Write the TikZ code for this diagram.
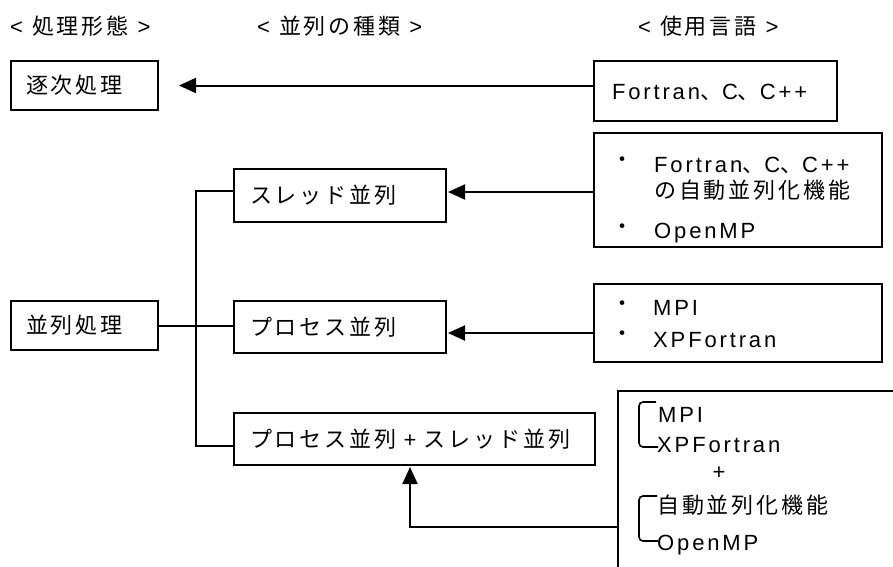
\documentclass[tikz,border=0pt]{standalone}
\usepackage{fontspec}
\setmainfont{Liberation Sans}[LetterSpace=13]
\newfontfamily\jpf{Noto Sans CJK JP}[LetterSpace=13]
\usetikzlibrary{arrows.meta,calc}
\begin{document}
\begin{tikzpicture}[x=1pt,y=-1pt,
  every node/.style={font=\fontsize{22}{26}\selectfont},
  box/.style={draw,line width=2pt,anchor=north west,inner xsep=15pt,inner ysep=0pt,align=left,text height=18pt,text depth=2pt},
  frame/.style={draw,line width=2pt,anchor=north west,inner sep=0pt},
  txt/.style={inner sep=0pt,anchor=west,text height=18pt,text depth=2pt},
  dot/.style={inner sep=0pt,anchor=center,text height=18pt,text depth=2pt},
  conn/.style={line width=2pt},
  arr/.style={conn,-{Triangle[length=17pt,width=15pt]}},
  brk/.style={line width=1.6pt,rounded corners=4pt}
]
\fill[white] (0,0) rectangle (893,566);
\useasboundingbox (0,0) rectangle (893,566);
\clip (0,0) rectangle (893,566);

% headers
\node[txt] (h1) at (10,26.5) {< {\jpf 処理形態} >};
\node[txt] (h2) at (257,26.5) {< {\jpf 並列の種類} >};
\node[txt] (h3) at (638,26.5) {< {\jpf 使用言語} >};

% boxes
\node[box,text width=117pt,minimum height=49pt] (seq) at (10,60) {{\jpf 逐次処理}};
\node[box,inner xsep=18pt,text width=207pt,minimum height=60pt] (f1) at (593,60) {Fortran{\jpf 、}C{\jpf 、}C++};
\node[box,inner xsep=16pt,text width=180pt,minimum height=53pt] (thread) at (233,168) {{\jpf スレッド並列}};
\node[box,text width=117pt,minimum height=49pt] (par) at (10,300) {{\jpf 並列処理}};
\node[box,inner xsep=16pt,text width=180pt,minimum height=52pt] (proc) at (233,300) {{\jpf プロセス並列}};
\node[box,inner xsep=16pt,text width=329pt,minimum height=52pt] (combo) at (233,412) {{\jpf プロセス並列} + {\jpf スレッド並列}};

% language list boxes
\node[frame,minimum width=288pt,minimum height=114pt] (b2) at (593,132) {};
\node[dot] (b2d1) at (622,159) {{\jpf ・}};
\node[txt] (b2l1) at (654,164) {Fortran{\jpf 、}C{\jpf 、}C++};
\node[txt] (b2l2) at (654,190.5) {{\jpf の自動並列化機能}};
\node[dot] (b2d2) at (622,226) {{\jpf ・}};
\node[txt] (b2l3) at (654,230) {OpenMP};

\node[frame,minimum width=288pt,minimum height=78pt] (mb) at (593,283) {};
\node[dot] (mbd1) at (622,303) {{\jpf ・}};
\node[txt] (mbl1) at (653,307.5) {MPI};
\node[dot] (mbd2) at (622,333) {{\jpf ・}};
\node[txt] (mbl2) at (653,339) {XPFortran};

\node[frame,minimum width=340pt,minimum height=220pt] (last) at (617,390) {};
\node[txt] (ll1) at (658,414) {MPI};
\node[txt] (ll2) at (657,444) {XPFortran};
\node[dot] (lplus) at (719,471) {+};
\node[txt] (ll3) at (657,505) {{\jpf 自動並列化機能}};
\node[txt] (ll4) at (657,542.5) {OpenMP};
\draw[brk] (656,402) -- (639,402) -- (639,447) -- (658,447);
\draw[brk] (657,496) -- (639,496) -- (639,541) -- (658,541);

% connectors
\draw[arr] (f1.west |- seq.east) -- ([xshift=20pt]seq.east);
\draw[arr,shorten >=1pt] ([yshift=-2pt]b2.west) -- ([yshift=-2pt]b2.west -| thread.east);
\draw[arr,shorten >=1pt] ([yshift=-10pt]mb.west) -- ([yshift=-10pt]mb.west -| proc.east);
\draw[conn] (par.east) -- (par.east -| proc.west);
\draw[conn] ([yshift=4.5pt]thread.west) -| ([xshift=-37pt,yshift=-7pt]combo.west) -- ([yshift=-7pt]combo.west);
\coordinate (lin) at ($(last.north west)+(0,137)$);
\draw[arr,shorten >=1pt] (lin) -| ([xshift=-4.5pt]combo.south);
\end{tikzpicture}
\end{document}
